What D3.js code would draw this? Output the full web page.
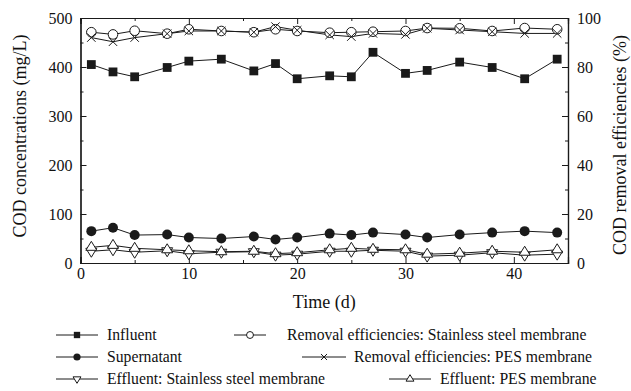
<!DOCTYPE html>
<html>
<head>
<meta charset="utf-8">
<script src="https://cdn.jsdelivr.net/npm/d3@7"></script>
<style>
  html, body { margin: 0; padding: 0; background: #fff; }
  svg { display: block; }
  svg text { font-family: "Liberation Serif", "Times New Roman", Times, "DejaVu Serif", serif; fill: #111; }
</style>
</head>
<body>
<svg id="chart" width="631" height="391"></svg>
<script>
// ---------- data ----------
const days = [1, 3, 5, 8, 10, 13, 16, 18, 20, 23, 25, 27, 30, 32, 35, 38, 41, 44];
const influent = [405, 390, 380, 399, 412, 416, 392, 407, 376, 382, 380, 430, 387, 393, 410, 399, 376, 416];
const supernatant = [65, 72, 57, 58, 52, 50, 54, 48, 52, 60, 57, 62, 58, 52, 58, 62, 65, 62];
const effluentSS = [24, 27, 22, 25, 19, 22, 23, 16, 18, 24, 24, 26, 24, 14, 16, 21, 16, 18];
const effluentPES = [32, 36, 30, 27, 25, 23, 24, 19, 21, 27, 30, 28, 27, 18, 20, 24, 22, 27];
const removalSS = [94.2, 93.3, 94.8, 93.6, 95.4, 94.7, 94.2, 95.4, 94.7, 94.0, 94.2, 94.4, 94.7, 95.9, 95.8, 94.7, 95.9, 95.4];
const removalPES = [92.0, 90.3, 92.0, 93.6, 94.7, 94.7, 94.2, 96.5, 95.0, 93.1, 92.4, 93.7, 93.3, 95.8, 95.1, 94.4, 93.7, 93.7];

const xTicks = [0, 10, 20, 30, 40];
const xMinorTicks = [5, 15, 25, 35, 45];
const yLeftTicks = [0, 100, 200, 300, 400, 500];
const yLeftMinor = [50, 150, 250, 350, 450];
const yRightTicks = [0, 20, 40, 60, 80, 100];
const yRightMinor = [10, 30, 50, 70, 90];

const xTitle = "Time (d)";
const yLeftTitle = "COD concentrations (mg/L)";
const yRightTitle = "COD removal efficiencies (%)";

// ---------- layout ----------
const FONT = '"Liberation Serif", "Times New Roman", Times, "DejaVu Serif", serif';
const svg = d3.select("#chart");
const L = 80.5, R = 568, T = 18, B = 263;
const x = d3.scaleLinear().domain([0, 45]).range([L, R]);
const yL = d3.scaleLinear().domain([0, 500]).range([B, T]);
const yR = d3.scaleLinear().domain([0, 100]).range([B, T]);
const ink = "#1a1a1a";

function styleAxis(g) {
  g.attr("font-family", FONT).attr("font-size", 16);
  g.selectAll("path.domain").attr("stroke", ink).attr("stroke-width", 1.2);
  g.selectAll(".tick line").attr("stroke", ink).attr("stroke-width", 1);
  g.selectAll("text").attr("fill", "#111");
}

// axes
svg.append("g").attr("transform", `translate(0,${B})`)
  .call(d3.axisBottom(x).tickValues(xTicks).tickSize(-6).tickPadding(5).tickFormat(d3.format("d")))
  .call(styleAxis)
  .call(g => g.selectAll("text").attr("y", 16).attr("dy", 0));
svg.append("g").attr("transform", `translate(0,${B})`)
  .call(d3.axisBottom(x).tickValues(xMinorTicks).tickSize(-3).tickFormat(""))
  .call(styleAxis);
svg.append("g").attr("transform", `translate(0,${T})`)
  .call(d3.axisTop(x).tickValues(xTicks).tickSize(-6).tickFormat(""))
  .call(styleAxis);
svg.append("g").attr("transform", `translate(0,${T})`)
  .call(d3.axisTop(x).tickValues(xMinorTicks).tickSize(-3).tickFormat(""))
  .call(styleAxis);

svg.append("g").attr("transform", `translate(${L},0)`)
  .call(d3.axisLeft(yL).tickValues(yLeftTicks).tickSize(-6).tickPadding(8).tickFormat(d3.format("d")))
  .call(styleAxis)
  .call(g => g.selectAll("text").attr("dy", "0.34em"));
svg.append("g").attr("transform", `translate(${L},0)`)
  .call(d3.axisLeft(yL).tickValues(yLeftMinor).tickSize(-3).tickFormat(""))
  .call(styleAxis);
svg.append("g").attr("transform", `translate(${R},0)`)
  .call(d3.axisRight(yR).tickValues(yRightTicks).tickSize(-6).tickPadding(9).tickFormat(d3.format("d")))
  .call(styleAxis)
  .call(g => g.selectAll("text").attr("dy", "0.34em"));
svg.append("g").attr("transform", `translate(${R},0)`)
  .call(d3.axisRight(yR).tickValues(yRightMinor).tickSize(-3).tickFormat(""))
  .call(styleAxis);

// titles
svg.append("text").attr("x", (L + R) / 2).attr("y", 308).attr("text-anchor", "middle")
  .attr("font-family", FONT).attr("font-size", 18).text(xTitle);
svg.append("text").attr("transform", `translate(26,136) rotate(-90)`).attr("text-anchor", "middle")
  .attr("font-family", FONT).attr("font-size", 18).text(yLeftTitle);
svg.append("text").attr("transform", `translate(626,145) rotate(-90)`).attr("text-anchor", "middle")
  .attr("font-family", FONT).attr("font-size", 18).text(yRightTitle);

// ---------- markers ----------
function drawMarker(g, type, cx, cy, s) {
  if (type === "square") {
    const h = 4.4 * s;
    g.append("rect").attr("x", cx - h).attr("y", cy - h).attr("width", 2 * h).attr("height", 2 * h).attr("fill", ink);
  } else if (type === "dot") {
    g.append("circle").attr("cx", cx).attr("cy", cy).attr("r", 5 * s).attr("fill", ink);
  } else if (type === "ocircle") {
    g.append("circle").attr("cx", cx).attr("cy", cy).attr("r", 4.8 * s).attr("fill", "#fff").attr("stroke", ink).attr("stroke-width", 1);
  } else if (type === "cross") {
    const h = 4.2 * s;
    g.append("path").attr("d", `M${cx - h},${cy - h}L${cx + h},${cy + h}M${cx - h},${cy + h}L${cx + h},${cy - h}`)
      .attr("stroke", ink).attr("stroke-width", 1).attr("fill", "none");
  } else if (type === "tdown") {
    const w = 5.5 * s, h = 9 * s;
    g.append("path").attr("d", `M${cx - w},${cy - h / 3}L${cx + w},${cy - h / 3}L${cx},${cy + 2 * h / 3}Z`)
      .attr("fill", "#fff").attr("stroke", ink).attr("stroke-width", 1);
  } else if (type === "tup") {
    const w = 5.5 * s, h = 9 * s;
    g.append("path").attr("d", `M${cx - w},${cy + h / 3}L${cx + w},${cy + h / 3}L${cx},${cy - 2 * h / 3}Z`)
      .attr("fill", "#fff").attr("stroke", ink).attr("stroke-width", 1);
  }
}

const series = [
  { name: "Influent", vals: influent, scale: yL, marker: "square" },
  { name: "Supernatant", vals: supernatant, scale: yL, marker: "dot" },
  { name: "Effluent: Stainless steel membrane", vals: effluentSS, scale: yL, marker: "tdown" },
  { name: "Effluent: PES membrane", vals: effluentPES, scale: yL, marker: "tup" },
  { name: "Removal efficiencies: Stainless steel membrane", vals: removalSS, scale: yR, marker: "ocircle" },
  { name: "Removal efficiencies: PES membrane", vals: removalPES, scale: yR, marker: "cross" }
];

const plot = svg.append("g");
series.forEach(s => {
  const line = d3.line().x((d, i) => x(days[i])).y(d => s.scale(d));
  plot.append("path").datum(s.vals).attr("d", line).attr("fill", "none").attr("stroke", ink).attr("stroke-width", 1);
});
series.forEach(s => {
  const g = plot.append("g");
  s.vals.forEach((v, i) => drawMarker(g, s.marker, x(days[i]), s.scale(v), 1));
});

// ---------- legend ----------
const legendItems = [
  { name: "Influent", marker: "square", x1: 56, x2: 98, tx: 107, y: 335 },
  { name: "Removal efficiencies: Stainless steel membrane", marker: "ocircle", x1: 234, x2: 266, tx: 287, y: 335 },
  { name: "Supernatant", marker: "dot", x1: 56, x2: 98, tx: 107, y: 357 },
  { name: "Removal efficiencies: PES membrane", marker: "cross", x1: 302, x2: 346, tx: 354, y: 357 },
  { name: "Effluent: Stainless steel membrane", marker: "tdown", x1: 56, x2: 98, tx: 107, y: 379 },
  { name: "Effluent: PES membrane", marker: "tup", x1: 389, x2: 431, tx: 440, y: 379 }
];
const leg = svg.append("g");
legendItems.forEach(it => {
  leg.append("line").attr("x1", it.x1).attr("x2", it.x2).attr("y1", it.y).attr("y2", it.y)
    .attr("stroke", ink).attr("stroke-width", 1);
  drawMarker(leg, it.marker, (it.x1 + it.x2) / 2, it.y, 0.72);
  leg.append("text").attr("x", it.tx).attr("y", it.y).attr("dy", "0.34em")
    .attr("font-family", FONT).attr("font-size", 15.7).text(it.name);
});
</script>
</body>
</html>
